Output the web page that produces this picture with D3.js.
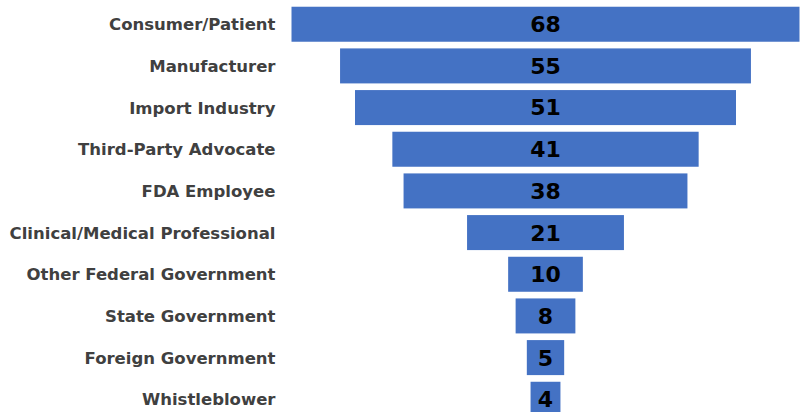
<!DOCTYPE html>
<html>
<head>
<meta charset="utf-8">
<script src="https://cdn.jsdelivr.net/npm/d3@7"></script>
<style>
  html, body { margin: 0; padding: 0; background: #ffffff; }
  svg { display: block; }
</style>
</head>
<body>
<svg id="chart" width="807" height="412"></svg>
<script>
const categories = [
  "Consumer/Patient",
  "Manufacturer",
  "Import Industry",
  "Third-Party Advocate",
  "FDA Employee",
  "Clinical/Medical Professional",
  "Other Federal Government",
  "State Government",
  "Foreign Government",
  "Whistleblower"
];
const values = [68, 55, 51, 41, 38, 21, 10, 8, 5, 4];

const W = 807, H = 412;
const centerX = 545.5;
const halfMax = 254;

const svg = d3.select("#chart");

const y = d3.scaleBand()
  .domain(categories)
  .range([3.4, 420.1])
  .paddingInner(0.16)
  .paddingOuter(0.08);

// half-width scale: value -> half of bar width
const hw = d3.scaleLinear()
  .domain([0, d3.max(values)])
  .range([0, halfMax]);

const data = categories.map((c, i) => ({ c, v: values[i] }));

svg.append("g").selectAll("rect")
  .data(data)
  .join("rect")
  .attr("x", d => centerX - hw(d.v))
  .attr("y", d => y(d.c))
  .attr("width", d => 2 * hw(d.v))
  .attr("height", y.bandwidth())
  .attr("fill", "#4472C4");

svg.append("g").selectAll("text")
  .data(data)
  .join("text")
  .attr("x", centerX)
  .attr("y", d => y(d.c) + y.bandwidth() / 2)
  .attr("dy", "0.36em")
  .attr("text-anchor", "middle")
  .attr("font-family", "DejaVu Sans, Verdana, sans-serif")
  .attr("font-weight", "bold")
  .attr("font-size", 22)
  .attr("fill", "#000000")
  .text(d => d.v);

// category axis labels
const axis = d3.axisLeft(y).tickSize(0).tickPadding(0);
const ag = svg.append("g")
  .attr("transform", "translate(275.5,0)")
  .call(axis);
ag.select(".domain").remove();
ag.selectAll("text")
  .attr("font-family", "DejaVu Sans, Verdana, sans-serif")
  .attr("font-weight", "bold")
  .attr("font-size", 16.5)
  .attr("fill", "#404040")
  .attr("dy", "0.36em");
</script>
</body>
</html>
